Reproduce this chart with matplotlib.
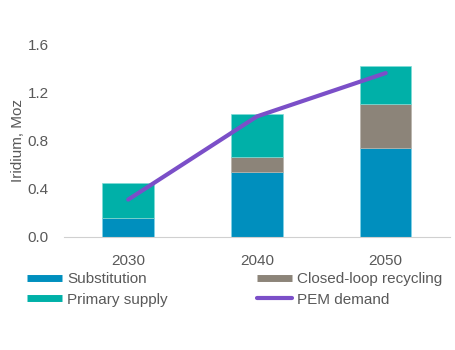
import numpy as np
import matplotlib
matplotlib.use('Agg')
import matplotlib.pyplot as plt
from matplotlib.lines import Line2D

plt.rcParams['font.family'] = ['Liberation Sans', 'DejaVu Sans']

years = ['2030', '2040', '2050']
substitution = [0.16, 0.54, 0.74]
recycling = [0.0, 0.125, 0.365]
primary = [0.29, 0.355, 0.315]
pem_demand = [0.31, 1.0, 1.36]

c_sub = '#008FBE'
c_rec = '#8C8479'
c_pri = '#00B0A8'
c_pem = '#7B4FC8'
gray = '#595959'

fig = plt.figure(figsize=(4.56, 3.5), dpi=100)
ax = fig.add_axes([0.140, 0.323, 0.847, 0.551])

x = np.arange(len(years))
w = 0.4
sub = np.array(substitution)
rec = np.array(recycling)
pri = np.array(primary)
ax.bar(x, sub, w, color=c_sub, edgecolor='#7FD3E8', linewidth=0.5)
ax.bar(x, rec, w, bottom=sub, color=c_rec, edgecolor='#B8B2AA', linewidth=0.5)
ax.bar(x, pri, w, bottom=sub + rec, color=c_pri, edgecolor='#7FDCD6', linewidth=0.5)
ax.plot(x, pem_demand, color=c_pem, linewidth=3, solid_capstyle='round')

ax.set_xlim(-0.5, 2.5)
ax.set_ylim(0, 1.6)
ax.set_yticks([0, 0.4, 0.8, 1.2, 1.6])
ax.set_yticklabels(['0.0', '0.4', '0.8', '1.2', '1.6'])
ax.set_xticks(x)
ax.set_xticklabels(years)
ax.tick_params(colors=gray, labelsize=11, length=0)
ax.tick_params(axis='x', pad=12)
ax.tick_params(axis='y', pad=11)
for s in ['top', 'right', 'left']:
    ax.spines[s].set_visible(False)
ax.spines['bottom'].set_color('#D0D0D0')
ax.set_ylabel('Iridium, Moz', color=gray, fontsize=11, labelpad=2)

handles = [
    Line2D([], [], color=c_sub, linewidth=5, solid_capstyle='butt'),
    Line2D([], [], color=c_pri, linewidth=5, solid_capstyle='butt'),
    Line2D([], [], color=c_rec, linewidth=5, solid_capstyle='butt'),
    Line2D([], [], color=c_pem, linewidth=3, solid_capstyle='round'),
]
labels = ['Substitution', 'Primary supply', 'Closed-loop recycling', 'PEM demand']
leg = fig.legend(handles, labels, ncol=2, loc='upper left', bbox_to_anchor=(0.059, 0.222),
                 frameon=False, fontsize=11, handlelength=2.3, handletextpad=0.35,
                 columnspacing=5.8, labelspacing=0.42, borderpad=0, borderaxespad=0,
                 labelcolor=gray)

fig.savefig('out.png', dpi=100)
